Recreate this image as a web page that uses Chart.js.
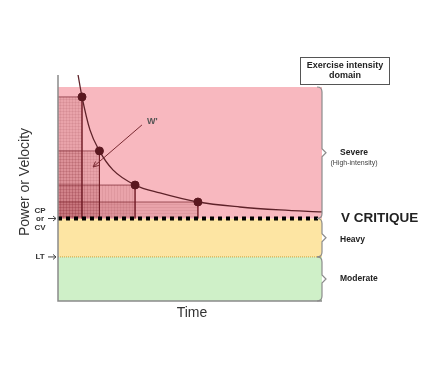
<!DOCTYPE html>
<html>
<head>
<meta charset="utf-8">
<script src="https://cdn.jsdelivr.net/npm/chart.js@4"></script>
<style>
  body { margin: 0; background: #fff; }
</style>
</head>
<body>
<canvas id="graphique" width="424" height="383"></canvas>
<script>
// ============================
// Données
// ============================
const tempsCourbe = [7.6, 9.1, 12.1, 15.7, 20.8, 29.2, 38.6, 53.0, 68.9, 84.1, 100];
const puissanceCourbe = [100, 90.3, 75.7, 66.4, 58.0, 51.3, 47.8, 43.8, 41.6, 40.3, 39.4];

const tempsEssais = [9.1, 15.7, 29.2, 53.0];
const puissanceEssais = [90.3, 66.4, 51.3, 43.8];

const seuilCP = 36.5;
const seuilLT = 19.5;
const hautSevere = 94.7;
const tempsMax = 100;

const domaines = ["Severe", "Heavy", "Moderate"];
const flecheW = [{ x: 31.8, y: 77.9 }, { x: 13.3, y: 59.3 }];

const POLICE = "'Liberation Sans', Arial, sans-serif";

// motif hachuré pour les rectangles W'
function motif(vertical, horizontal) {
  const c = document.createElement("canvas");
  c.width = 3; c.height = 3;
  const g = c.getContext("2d");
  g.fillStyle = "rgba(150,45,55,0.15)";
  g.fillRect(0, 0, 3, 3);
  g.fillStyle = "rgba(120,30,40,0.09)";
  if (vertical) g.fillRect(0, 0, 1, 3);
  if (horizontal) g.fillRect(0, 0, 3, 1);
  return g.createPattern(c, "repeat");
}

function bande(haut, bas, couleur) {
  return {
    data: [{ x: 0, y: haut }, { x: tempsMax, y: haut }],
    borderColor: "transparent",
    backgroundColor: couleur,
    fill: { value: bas },
    pointRadius: 0,
    order: 10
  };
}

const motifs = [motif(true, true), motif(true, true), motif(true, false), motif(false, true)];

const rectangles = tempsEssais.map((t, i) => ({
  data: [{ x: 0, y: puissanceEssais[i] }, { x: t, y: puissanceEssais[i] }, { x: t, y: seuilCP }],
  borderColor: "rgba(110,25,35,0.65)",
  borderWidth: 1,
  backgroundColor: motifs[i],
  fill: { value: seuilCP },
  pointRadius: 0,
  order: 6
}));

// ============================
// Annotations (axes, accolades, textes)
// ============================
const annotations = {
  id: "annotations",
  afterDraw(chart) {
    const ctx = chart.ctx;
    const a = chart.chartArea;
    const sx = chart.scales.x, sy = chart.scales.y;
    ctx.save();

    // axes
    ctx.strokeStyle = "#8a8a8a";
    ctx.lineWidth = 1.5;
    ctx.beginPath();
    ctx.moveTo(a.left, a.top);
    ctx.lineTo(a.left, a.bottom);
    ctx.lineTo(a.right, a.bottom);
    ctx.stroke();

    // accolades à droite des domaines
    const limites = [[hautSevere, seuilCP], [seuilCP, seuilLT], [seuilLT, 0]];
    ctx.strokeStyle = "#8c8c8c";
    ctx.lineWidth = 1.2;
    limites.forEach(([h, b]) => {
      const y1 = sy.getPixelForValue(h), y2 = sy.getPixelForValue(b);
      const ym = (y1 + y2) / 2, x = a.right;
      ctx.beginPath();
      ctx.moveTo(x - 5, y1);
      ctx.quadraticCurveTo(x, y1, x, y1 + 5);
      ctx.lineTo(x, ym - 4);
      ctx.lineTo(x + 4, ym);
      ctx.lineTo(x, ym + 4);
      ctx.lineTo(x, y2 - 5);
      ctx.quadraticCurveTo(x, y2, x - 5, y2);
      ctx.stroke();
    });

    // pointe de la flèche W'
    const p0 = { x: sx.getPixelForValue(flecheW[0].x), y: sy.getPixelForValue(flecheW[0].y) };
    const p1 = { x: sx.getPixelForValue(flecheW[1].x), y: sy.getPixelForValue(flecheW[1].y) };
    const ang = Math.atan2(p1.y - p0.y, p1.x - p0.x);
    ctx.strokeStyle = "#7a2a32";
    ctx.lineWidth = 1;
    ctx.beginPath();
    ctx.moveTo(p1.x - 6 * Math.cos(ang - 0.45), p1.y - 6 * Math.sin(ang - 0.45));
    ctx.lineTo(p1.x, p1.y);
    ctx.lineTo(p1.x - 6 * Math.cos(ang + 0.45), p1.y - 6 * Math.sin(ang + 0.45));
    ctx.stroke();

    ctx.fillStyle = "#555";
    ctx.font = "bold 9px " + POLICE;
    ctx.textAlign = "left";
    ctx.textBaseline = "middle";
    ctx.fillText("W'", p0.x + 5, p0.y - 3);

    // titres des axes
    ctx.fillStyle = "#333";
    ctx.font = "14px " + POLICE;
    ctx.textAlign = "center";
    ctx.fillText("Time", (a.left + a.right) / 2 + 2, a.bottom + 12);
    ctx.save();
    ctx.translate(25, 182);
    ctx.rotate(-Math.PI / 2);
    ctx.fillText("Power or Velocity", 0, 0);
    ctx.restore();

    // repères CP / LT
    const yCP = sy.getPixelForValue(seuilCP), yLT = sy.getPixelForValue(seuilLT);
    ctx.fillStyle = "#333";
    ctx.font = "bold 8px " + POLICE;
    ctx.fillText("CP", 40, yCP - 8);
    ctx.fillText("or", 40, yCP);
    ctx.fillText("CV", 40, yCP + 9);
    ctx.fillText("LT", 40, yLT);
    ctx.strokeStyle = "#444";
    ctx.lineWidth = 1;
    [yCP, yLT].forEach(y => {
      ctx.beginPath();
      ctx.moveTo(48, y); ctx.lineTo(56, y);
      ctx.moveTo(53, y - 2.5); ctx.lineTo(56, y); ctx.lineTo(53, y + 2.5);
      ctx.stroke();
    });

    // encadré titre des domaines
    ctx.strokeStyle = "#555";
    ctx.strokeRect(300.5, 57.5, 89, 27);
    ctx.fillStyle = "#222";
    ctx.font = "bold 9px " + POLICE;
    ctx.fillText("Exercise intensity", 345, 66);
    ctx.fillText("domain", 345, 76);

    // noms des domaines
    const ySev = sy.getPixelForValue((hautSevere + seuilCP) / 2);
    ctx.font = "bold 8.5px " + POLICE;
    ctx.fillText(domaines[0], a.right + 32, ySev);
    ctx.font = "7px " + POLICE;
    ctx.fillStyle = "#444";
    ctx.fillText("(High-intensity)", a.right + 32, ySev + 10);

    ctx.fillStyle = "#222";
    ctx.font = "bold 8.5px " + POLICE;
    ctx.textAlign = "left";
    ctx.fillText(domaines[1], a.right + 18, sy.getPixelForValue((seuilCP + seuilLT) / 2) + 2);
    ctx.fillText(domaines[2], a.right + 18, sy.getPixelForValue(seuilLT / 2));

    ctx.font = "bold 13.5px " + POLICE;
    ctx.fillStyle = "#222";
    ctx.fillText("V CRITIQUE", a.right + 19, yCP);

    ctx.restore();
  }
};

// ============================
// Graphique
// ============================
new Chart(document.getElementById("graphique"), {
  type: "line",
  data: {
    datasets: [
      bande(hautSevere, seuilCP, "#f8b8bf"),
      bande(seuilCP, seuilLT, "#fde5a3"),
      bande(seuilLT, 0, "#cff0c8"),
      ...rectangles,
      {
        // ligne LT pointillée
        data: [{ x: 0, y: seuilLT }, { x: tempsMax, y: seuilLT }],
        borderColor: "#c9a23c",
        borderWidth: 1,
        borderDash: [1, 1],
        pointRadius: 0,
        order: 5
      },
      {
        // ligne CP en gros pointillés
        data: [{ x: 0, y: seuilCP }, { x: tempsMax, y: seuilCP }],
        borderColor: "#000",
        borderWidth: 4,
        borderDash: [4, 4],
        borderCapStyle: "butt",
        pointRadius: 0,
        order: 3
      },
      {
        // courbe puissance-durée
        data: tempsCourbe.map((t, i) => ({ x: t, y: puissanceCourbe[i] })),
        borderColor: "#5e2229",
        borderWidth: 1.3,
        cubicInterpolationMode: "monotone",
        pointRadius: 0,
        order: 4
      },
      {
        // flèche W'
        data: flecheW,
        borderColor: "#7a2a32",
        borderWidth: 1,
        pointRadius: 0,
        order: 4
      },
      {
        // essais
        data: tempsEssais.map((t, i) => ({ x: t, y: puissanceEssais[i] })),
        showLine: false,
        pointRadius: 4,
        pointBackgroundColor: "#5b1820",
        pointBorderColor: "#5b1820",
        order: 1
      }
    ]
  },
  options: {
    responsive: false,
    animation: false,
    layout: { padding: { left: 58, right: 102, top: 75, bottom: 82 } },
    plugins: { legend: { display: false }, tooltip: { enabled: false } },
    scales: {
      x: { type: "linear", min: 0, max: tempsMax, display: false },
      y: { min: 0, max: 100, display: false }
    }
  },
  plugins: [annotations]
});
</script>
</body>
</html>
